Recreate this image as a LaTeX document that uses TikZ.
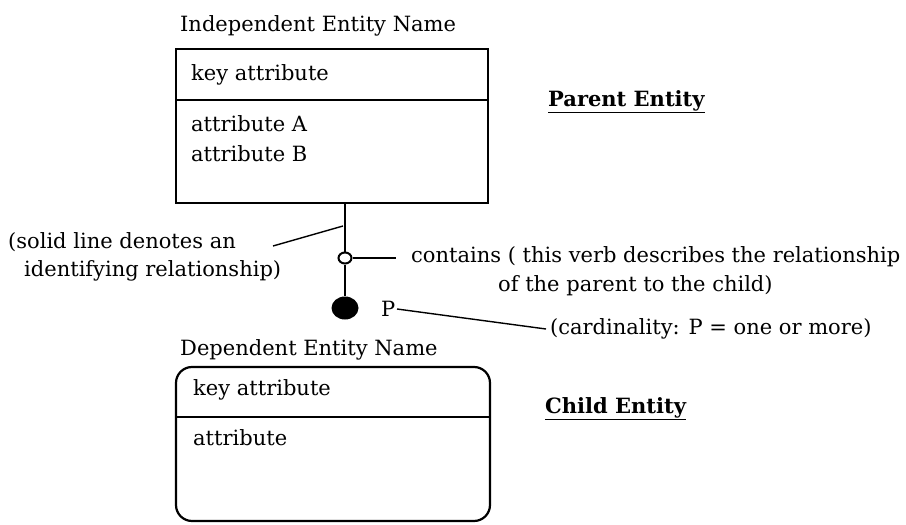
\documentclass[tikz,border=0pt]{standalone}
\usepackage{fontspec}
\setmainfont{DejaVu Serif}
\usetikzlibrary{shapes.geometric}
\begin{document}
\begin{tikzpicture}[x=1pt,y=-1pt,
  lbl/.style={anchor=base west,inner sep=0pt,font=\fontsize{21}{24}\selectfont},
  heading/.style={anchor=base west,inner sep=0pt,font=\bfseries\fontsize{21}{24}\selectfont},
  ent/.style={line width=2.2pt},
  rel/.style={line width=2.2pt},
  lead/.style={line width=1.4pt}]
\useasboundingbox (0,0) rectangle (906,525);
% parent (independent) entity
\node[lbl] (ptitle) at (180,31) {Independent Entity Name};
\draw[ent] (176,49) rectangle (488,203);
\draw[ent] (176,100) -- (488,100);
\node[lbl] (pkey) at (191,80) {key attribute};
\node[lbl] (pa) at (191,131) {attribute A};
\node[lbl] (pb) at (191,161) {attribute B};
\node[heading] (parent) at (548,106) {\underline{Parent Entity}};
% relationship line
\coordinate (top) at (345,203);
\node[ellipse,draw,line width=2pt,fill=white,minimum width=13pt,minimum height=11pt,inner sep=0pt] (verb) at (345,258) {};
\node[ellipse,fill=black,minimum width=27pt,minimum height=23pt,inner sep=0pt] (many) at (345,308) {};
\draw[rel] (top) -- (verb.north);
\draw[rel] (verb.south) -- (many.north);
% notes
\node[lbl] (solid1) at (8,248) {(solid line denotes an};
\node[lbl] (solid2) at (24,276) {identifying relationship)};
\coordinate (solidend) at (343,226);
\draw[lead] (273,246) -- (solidend);
\node[lbl] (contains) at (411,262) {contains ( this verb describes the relationship};
\node[lbl] (contains2) at (498,291) {of the parent to the child)};
\draw[lead] (verb.east) -- (396,258);
\node[lbl] (p) at (381,316) {P};
\node[lbl] (card) at (550,334) {(cardinality: P = one or more)};
\draw[lead] (397,309) -- (546,329);
% child (dependent) entity
\node[lbl] (ctitle) at (180,355) {Dependent Entity Name};
\draw[ent,rounded corners=16pt] (176,367) rectangle (490,521);
\draw[ent] (176,417) -- (490,417);
\node[lbl] (ckey) at (193,395) {key attribute};
\node[lbl] (ca) at (193,445) {attribute};
\node[heading] (child) at (545,413) {\underline{Child Entity}};
\end{tikzpicture}
\end{document}
